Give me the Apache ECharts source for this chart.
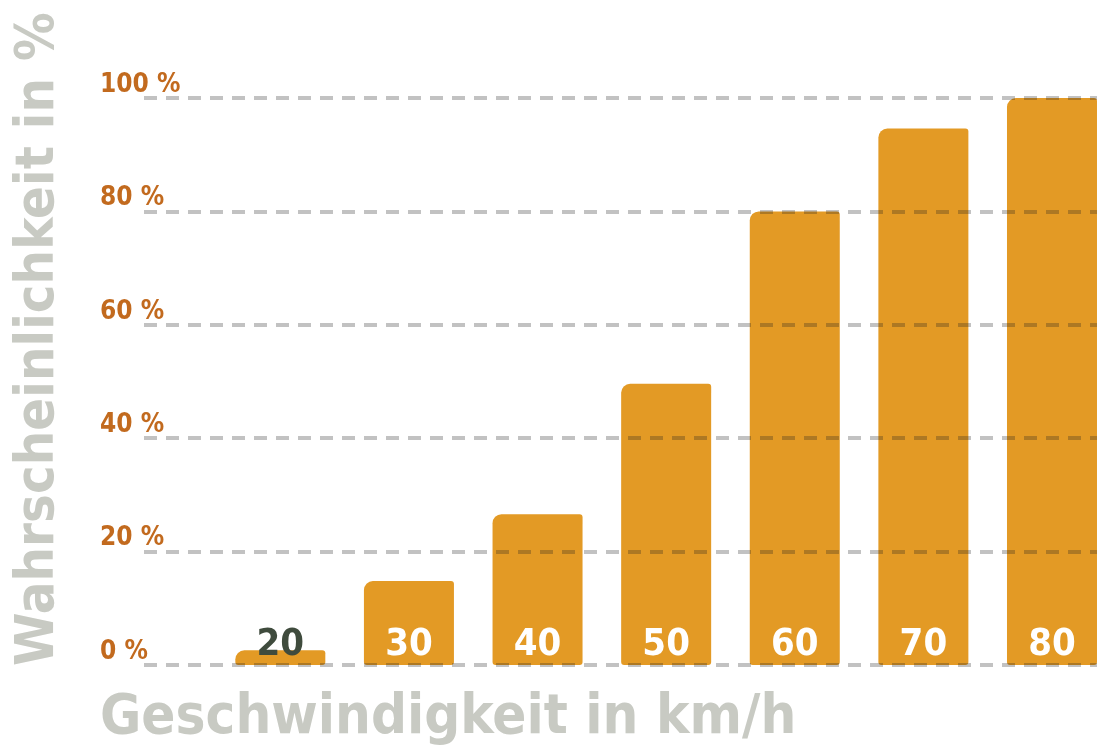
<!DOCTYPE html>
<html>
<head>
<meta charset="utf-8">
<script src="https://cdn.jsdelivr.net/npm/echarts@6/dist/echarts.min.js"></script>
<style>
  html, body { margin: 0; padding: 0; background: #fff; }
  #chart { width: 1104px; height: 754px; }
</style>
</head>
<body>
<div id="chart"></div>
<script>
// Geschwindigkeit (km/h) und Wahrscheinlichkeit (%)
const speeds = [20, 30, 40, 50, 60, 70, 80];
const probability = [2.6, 14.8, 26.6, 49.6, 80, 94.6, 100];
const yTicks = [0, 20, 40, 60, 80, 100];

const font = '"DejaVu Sans Condensed", sans-serif';
const chart = echarts.init(document.getElementById('chart'));

chart.setOption({
  animation: false,
  grid: { left: 144, right: 7, top: 98, bottom: 89 },
  xAxis: {
    type: 'value',
    min: 9.4,
    max: 83.5,
    show: false
  },
  yAxis: {
    type: 'value',
    min: yTicks[0],
    max: yTicks[yTicks.length - 1],
    interval: 20,
    axisLine: { show: false },
    axisTick: { show: false },
    splitLine: { show: false },
    axisLabel: {
      formatter: v => v + ' %',
      color: '#C26A1E',
      fontFamily: font,
      fontWeight: 'bold',
      fontSize: 26,
      align: 'left',
      verticalAlign: 'bottom',
      margin: 44
    }
  },
  graphic: [
    {
      type: 'text',
      left: 100,
      top: 690,
      style: {
        text: 'Geschwindigkeit in km/h',
        fill: '#C8CAC3',
        font: 'bold 56px ' + font
      }
    },
    {
      type: 'text',
      x: 12,
      y: 666,
      rotation: Math.PI / 2,
      style: {
        text: 'Wahrscheinlichkeit in %',
        fill: '#C8CAC3',
        font: 'bold 54px ' + font,
        verticalAlign: 'top'
      }
    }
  ],
  series: [
    {
      type: 'bar',
      z: 1,
      barWidth: 90,
      itemStyle: { color: '#E39A25', borderRadius: [9, 3, 3, 3] },
      label: {
        show: true,
        position: 'insideBottom',
        distance: 1,
        formatter: p => p.value[0],
        color: '#fff',
        fontFamily: font,
        fontWeight: 'bold',
        fontSize: 38
      },
      data: speeds.map((s, i) => ({
        value: [s, probability[i]],
        label: i === 0 ? { color: '#3F4B3D' } : undefined
      }))
    },
    {
      // gestrichelte Hilfslinien über den Balken
      type: 'line',
      z: 10,
      data: [],
      markLine: {
        silent: true,
        z: 10,
        symbol: 'none',
        label: { show: false },
        lineStyle: { color: 'rgba(30,30,30,0.27)', width: 4, type: [13, 9] },
        data: yTicks.map(t => ({ yAxis: t }))
      }
    }
  ]
});
</script>
</body>
</html>
